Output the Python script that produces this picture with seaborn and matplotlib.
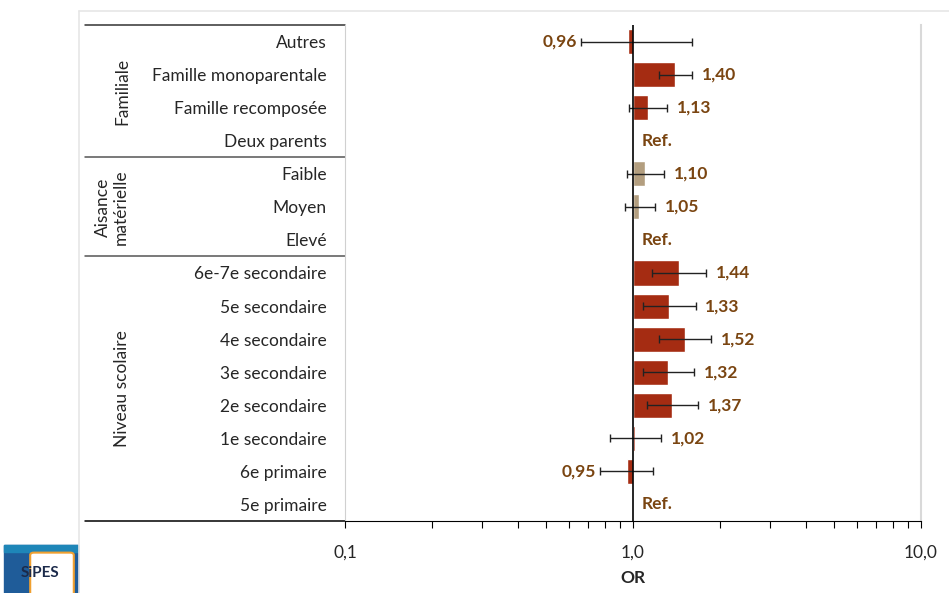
import numpy as np
import pandas as pd
import matplotlib
matplotlib.use("Agg")
import matplotlib.pyplot as plt
import matplotlib.transforms as mtransforms
from matplotlib.patches import Rectangle, FancyBboxPatch
import seaborn as sns

# data (top to bottom)
labels = ["Autres", "Famille monoparentale", "Famille recomposée", "Deux parents",
          "Faible", "Moyen", "Elevé",
          "6e-7e secondaire", "5e secondaire", "4e secondaire", "3e secondaire",
          "2e secondaire", "1e secondaire", "6e primaire", "5e primaire"]
odds = [0.96, 1.40, 1.13, np.nan,
        1.10, 1.05, np.nan,
        1.44, 1.33, 1.52, 1.32, 1.37, 1.02, 0.95, np.nan]
ci_low = [0.66, 1.23, 0.97, np.nan,
          0.95, 0.94, np.nan,
          1.16, 1.08, 1.23, 1.08, 1.12, 0.83, 0.77, np.nan]
ci_high = [1.60, 1.60, 1.31, np.nan,
           1.28, 1.19, np.nan,
           1.79, 1.65, 1.87, 1.63, 1.68, 1.25, 1.17, np.nan]
groups = ["Familiale"] * 4 + ["Aisance\nmatérielle"] * 3 + ["Niveau scolaire"] * 8

RED = "#A52C12"
TAN = "#B39E7F"
BROWN = "#7A4511"
group_colors = {"Familiale": RED, "Aisance\nmatérielle": TAN, "Niveau scolaire": RED}
FS = 12.5

df = pd.DataFrame({"label": labels, "OR": odds, "lo": ci_low, "hi": ci_high, "group": groups})
df["logOR"] = np.log10(df["OR"]).fillna(0)

sns.set_style("white")
plt.rcParams["font.family"] = ["Lato", "DejaVu Sans"]

fig = plt.figure(figsize=(9.49, 5.93), dpi=100)
ax = fig.add_axes([345 / 949, 1 - 521 / 593, 576 / 949, 496 / 593])

sns.barplot(data=df, x="logOR", y="label", hue="label",
            palette=[group_colors[g] for g in groups], legend=False,
            width=0.76, orient="h", ax=ax, saturation=1)

# confidence intervals
ypos = np.arange(len(df))
m = df["OR"].notna().values
ax.errorbar(df["logOR"][m], ypos[m],
            xerr=[df["logOR"][m] - np.log10(df["lo"][m]), np.log10(df["hi"][m]) - df["logOR"][m]],
            fmt="none", ecolor="#222222", elinewidth=1, capsize=3, capthick=1)

# value labels
for i, row in df.iterrows():
    if np.isnan(row["OR"]):
        ax.annotate("Ref.", (0, i), xytext=(6, 0), textcoords="offset points",
                    ha="left", va="center", color=BROWN, fontsize=FS, fontweight="bold")
    elif row["OR"] < 1:
        ax.annotate(f"{row['OR']:.2f}".replace(".", ","), (np.log10(row["lo"]), i),
                    xytext=(-3, 0), textcoords="offset points",
                    ha="right", va="center", color=BROWN, fontsize=FS, fontweight="bold")
    else:
        ax.annotate(f"{row['OR']:.2f}".replace(".", ","), (np.log10(row["hi"]), i),
                    xytext=(7, 0), textcoords="offset points",
                    ha="left", va="center", color=BROWN, fontsize=FS, fontweight="bold")

ax.set_xlim(-1, 1)
ax.set_ylim(14.5, -0.5)
ax.axvline(0, color="black", lw=1.2)

ax.set_xticks([-1, 0, 1])
ax.set_xticklabels(["0,1", "1,0", "10,0"], fontsize=FS)
minors = [np.log10(k) + d for d in (-1, 0) for k in range(2, 10)]
ax.set_xticks(minors, minor=True)
ax.tick_params(axis="x", which="both", direction="out", length=5, width=0.8,
               color="black", bottom=True, pad=12)
ax.tick_params(axis="y", length=0, pad=13, labelsize=FS)
ax.set_xlabel("OR", fontsize=FS, fontweight="bold", labelpad=7)
ax.set_ylabel("")

ax.spines["top"].set_visible(False)
ax.spines["left"].set_color("#d0d0d0")
ax.spines["right"].set_color("#d9d9d9")
ax.spines["right"].set_linewidth(1.5)
ax.spines["bottom"].set_color("black")

# group table on the left
trans = mtransforms.blended_transform_factory(ax.transAxes, ax.transData)
x0 = (85 - 345) / 576
for yy, c in [(-0.5, "#333333"), (3.5, "#555555"), (6.5, "#555555"), (14.5, "black")]:
    ax.plot([x0, 0], [yy, yy], color=c, lw=1.1, transform=trans, clip_on=False)
gx = (122 - 345) / 576
ax.text(gx, 1.5, "Familiale", rotation=90, ha="center", va="center", fontsize=FS, transform=trans)
ax.text((112 - 345) / 576, 5, "Aisance\nmatérielle", rotation=90, ha="center", va="center",
        fontsize=FS, transform=trans, linespacing=1.15)
ax.text(gx, 10.5, "Niveau scolaire", rotation=90, ha="center", va="center", fontsize=FS, transform=trans)

# outer chart border
fig.add_artist(plt.Line2D([79 / 949, 1], [1 - 11 / 593] * 2, color="#e6e6e6", lw=1.2))
fig.add_artist(plt.Line2D([79 / 949] * 2, [0, 1 - 11 / 593], color="#e6e6e6", lw=1.2))

# logo
fig.add_artist(Rectangle((4 / 949, 0), 74 / 949, 48 / 593, color="#1F5C99", transform=fig.transFigure))
fig.add_artist(Rectangle((4 / 949, 41 / 593), 74 / 949, 7 / 593, color="#1E86B8", transform=fig.transFigure))
fig.add_artist(FancyBboxPatch((34 / 949, -6 / 593), 36 / 949, 44 / 593,
                              boxstyle="round,pad=0.004", fc="white", ec="#F0A030", lw=1.5,
                              transform=fig.transFigure))
fig.text(40 / 949, 20 / 593, "SiPES", ha="center", va="center", fontsize=11,
         fontweight="bold", color="#1B2A4A")

fig.savefig("out.png", dpi=100)
